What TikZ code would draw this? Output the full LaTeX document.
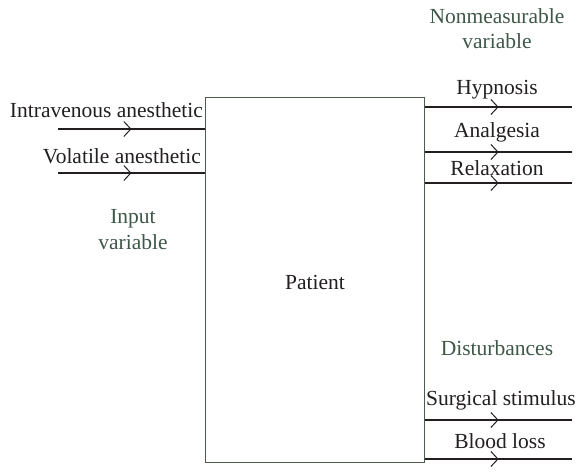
\documentclass[tikz,border=0pt]{standalone}
\usepackage{fontspec}
\setmainfont{Liberation Serif}
\usetikzlibrary{arrows.meta,decorations.markings}
\definecolor{labelgreen}{HTML}{3E5848}
\definecolor{boxline}{HTML}{4A5E50}
\definecolor{ink}{HTML}{231F20}
\tikzset{
  txt/.style={font=\fontsize{21.5}{25}\selectfont, text=ink, inner sep=0pt, anchor=base},
  grn/.style={font=\fontsize{21.5}{25}\selectfont, text=labelgreen, inner sep=0pt, anchor=base},
  sig/.style={draw=ink, line width=1.2pt,
    postaction={decorate, decoration={markings,
      mark=at position 0.5 with {\arrow{Straight Barb[length=7pt,width=15pt,line width=1pt]}}}}},
  patient/.style={draw=boxline, line width=1.2pt, minimum width=219pt, minimum height=365pt, inner sep=0pt}
}
\begin{document}
\begin{tikzpicture}[x=1pt,y=-1pt]
\useasboundingbox (0,0) rectangle (576,472);
\node[patient, anchor=north west] (box) at (205,97) {};
\node[txt] (pat) at (315,289) {Patient};
% inputs
\coordinate (i1) at (58,129);
\coordinate (i2) at (58,173);
\draw[sig] (i1) -- (i1 -| box.west);
\draw[sig] (i2) -- (i2 -| box.west);
\node[txt, anchor=base east] (t1) at (203,117) {Intravenous anesthetic};
\node[txt, anchor=base east] (t2) at (201,163) {Volatile anesthetic};
\node[grn] (in1) at (133,223) {Input};
\node[grn] (in2) at (133,249) {variable};
% outputs
\coordinate (o1) at (572,107);
\coordinate (o2) at (572,152);
\coordinate (o3) at (572,183);
\coordinate (d1) at (572,420);
\coordinate (d2) at (572,459);
\draw[sig] (o1 -| box.east) -- (o1);
\draw[sig] (o2 -| box.east) -- (o2);
\draw[sig] (o3 -| box.east) -- (o3);
\draw[sig] (d1 -| box.east) -- (d1);
\draw[sig] (d2 -| box.east) -- (d2);
\node[grn] (nm1) at (497,23) {Nonmeasurable};
\node[grn] (nm2) at (497,48) {variable};
\node[txt] (h) at (497,94) {Hypnosis};
\node[txt] (a) at (497,137) {Analgesia};
\node[txt] (r) at (497,175) {Relaxation};
\node[grn] (dist) at (497,355) {Disturbances};
\node[txt] (s) at (501,405) {Surgical stimulus};
\node[txt] (b) at (500,448) {Blood loss};
\end{tikzpicture}
\end{document}
